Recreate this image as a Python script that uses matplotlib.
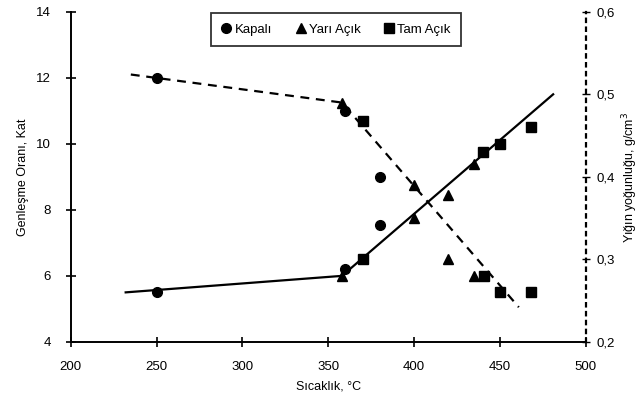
import matplotlib
matplotlib.use("Agg")
import matplotlib.pyplot as plt

plt.rcParams['font.family'] = ['Liberation Sans', 'DejaVu Sans']

# Expansion ratio (left axis)
kapali_t = [250, 360, 380]
kapali_exp = [5.5, 6.2, 7.55]
yari_t = [358, 400, 420, 435]
yari_exp = [6.0, 7.75, 8.45, 9.4]
tam_t = [370, 440, 450, 468]
tam_exp = [6.5, 9.75, 10.0, 10.5]

# Bulk density (right axis)
kapali_dt = [250, 360, 380]
kapali_den = [0.52, 0.48, 0.40]
yari_dt = [358, 400, 420, 435]
yari_den = [0.49, 0.39, 0.30, 0.28]
tam_dt = [370, 441, 450, 468]
tam_den = [0.468, 0.28, 0.26, 0.26]

# trend lines
exp_fit_t = [232, 358, 481]
exp_fit = [5.5, 6.0, 11.5]
den_fit_t = [235, 358, 461]
den_fit = [0.524, 0.49, 0.242]

fig = plt.figure(figsize=(6.43, 4.07), dpi=100)
ax = fig.add_axes([0.110, 0.160, 0.801, 0.811])
ax2 = ax.twinx()

ms = 7
ax.plot(exp_fit_t, exp_fit, color='black', lw=1.6)
ax.plot(kapali_t, kapali_exp, 'o', color='black', ms=ms, label='Kapalı')
ax.plot(yari_t, yari_exp, '^', color='black', ms=ms, label='Yarı Açık')
ax.plot(tam_t, tam_exp, 's', color='black', ms=ms, label='Tam Açık')

ax2.plot(den_fit_t, den_fit, color='black', lw=1.6, dashes=(4, 3))
ax2.plot(kapali_dt, kapali_den, 'o', color='black', ms=ms)
ax2.plot(yari_dt, yari_den, '^', color='black', ms=ms)
ax2.plot(tam_dt, tam_den, 's', color='black', ms=ms)

ax.set_xlim(200, 500)
ax.set_ylim(4, 14)
ax2.set_ylim(0.2, 0.6)
ax.set_xticks([200, 250, 300, 350, 400, 450, 500])
ax.set_yticks([4, 6, 8, 10, 12, 14])
ax2.set_yticks([0.2, 0.3, 0.4, 0.5, 0.6])
ax2.set_yticklabels(['0,2', '0,3', '0,4', '0,5', '0,6'])

for a in (ax, ax2):
    a.spines['top'].set_visible(False)
ax.spines['right'].set_visible(False)
ax2.spines['left'].set_visible(False)
ax2.spines['bottom'].set_visible(False)
ax2.spines['right'].set_linestyle((0, (1.5, 2.5)))
ax2.spines['right'].set_linewidth(1.6)
ax.spines['left'].set_linewidth(1.4)
ax.spines['bottom'].set_linewidth(1.4)

ax.tick_params(axis='y', direction='inout', length=7, width=1.2, labelsize=9.5, pad=11)
ax.tick_params(axis='x', direction='inout', length=7, width=1.2, labelsize=9.5, pad=10)
ax2.tick_params(axis='y', direction='inout', length=6, width=1.0, labelsize=9.5, pad=5)

ax.set_xlabel('Sıcaklık, °C', fontsize=9, labelpad=6)
ax.set_ylabel('Genleşme Oranı, Kat', fontsize=9, labelpad=5)
ax2.set_ylabel('Yığın yoğunluğu, g/cm$^3$', fontsize=9, labelpad=4)

leg = ax.legend(loc='upper center', bbox_to_anchor=(0.515, 1.0), ncol=3,
                fontsize=9.5, frameon=True, fancybox=False, handlelength=0.8,
                handletextpad=0.2, columnspacing=1.8, borderpad=0.8,
                borderaxespad=0.1)
leg.get_frame().set_edgecolor('black')
leg.get_frame().set_linewidth(1.3)

fig.savefig('out.png', dpi=100)
